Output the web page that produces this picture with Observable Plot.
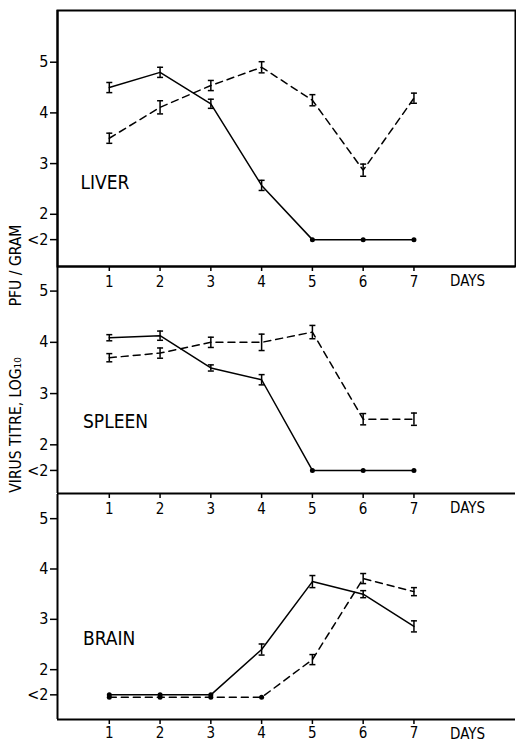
<!DOCTYPE html>
<html>
<head>
<meta charset="utf-8">
<script src="https://cdn.jsdelivr.net/npm/d3@7"></script>
<script src="https://cdn.jsdelivr.net/npm/@observablehq/plot@0.6"></script>
<style>
  body { margin: 0; background: #fff; }
  #chart { position: relative; width: 516px; height: 742px; background: #fff; }
  #chart svg { position: absolute; left: 0; top: 0; overflow: visible; }
</style>
</head>
<body>
<div id="chart"></div>
<script>
// ---- data ----
const days = [1, 2, 3, 4, 5, 6, 7];
const yTicks = [1.5, 2, 3, 4, 5];
const yTickLabels = ["<2", "2", "3", "4", "5"];
const panelNames = ["LIVER", "SPLEEN", "BRAIN"];
const xLabel = "DAYS";
const yTitleParts = ["VIRUS TITRE, LOG\u2081\u2080", "PFU / GRAM"];

const liverSolid      = [4.5, 4.8, 4.18, 2.57, 1.5, 1.5, 1.5];
const liverSolidErr   = [0.1, 0.1, 0.09, 0.1, 0, 0, 0];
const liverDashed     = [3.5, 4.11, 4.54, 4.9, 4.25, 2.87, 4.29];
const liverDashedErr  = [0.1, 0.13, 0.1, 0.11, 0.11, 0.12, 0.1];

const spleenSolid     = [4.09, 4.13, 3.5, 3.27, 1.5, 1.5, 1.5];
const spleenSolidErr  = [0.06, 0.09, 0.06, 0.1, 0, 0, 0];
const spleenDashed    = [3.7, 3.79, 4.0, 4.0, 4.2, 2.5, 2.5];
const spleenDashedErr = [0.08, 0.1, 0.1, 0.16, 0.13, 0.11, 0.12];

const brainSolid      = [1.5, 1.5, 1.5, 2.4, 3.75, 3.5, 2.86];
const brainSolidErr   = [0, 0, 0, 0.11, 0.12, 0.07, 0.11];
const brainDashed     = [1.45, 1.45, 1.45, 1.45, 2.2, 3.81, 3.55];
const brainDashedErr  = [0, 0, 0, 0, 0.1, 0.1, 0.08];

// ---- helpers ----
const FONT = "'Liberation Sans Narrow','DejaVu Sans Condensed','Liberation Sans',Arial,sans-serif";
const W = 516, H = 742;
const xDomain = [-0.02, 9.0];
const rows = (vals, errs) => days.map((d, i) => ({day: d, v: vals[i], e: errs[i]}));
const capSymbol = {
  draw(ctx, size) {
    const w = Math.sqrt(size / Math.PI);
    ctx.moveTo(-w, 0);
    ctx.lineTo(w, 0);
  }
};

function panel({name, solid, dashed, top, bottom, yDomain, boxed, labelDx, labelDy, xPad, extra = []}) {
  const all = [...solid, ...dashed];
  const withErr = all.filter(d => d.e > 0);
  const nd = all.filter(d => d.e === 0);
  return Plot.plot({
    width: W, height: H,
    marginLeft: 57, marginRight: 1,
    marginTop: top, marginBottom: H - bottom,
    style: {fontFamily: FONT, background: "transparent", overflow: "visible", color: "black"},
    x: {domain: xDomain},
    y: {domain: yDomain},
    marks: [
      boxed ? Plot.frame({stroke: "black", strokeWidth: 2}) : null,
      Plot.ruleX([xDomain[0]], {stroke: "black", strokeWidth: 2}),
      Plot.ruleY([yDomain[0]], {stroke: "black", strokeWidth: 2}),
      Plot.axisY({ticks: yTicks, tickFormat: d => yTickLabels[yTicks.indexOf(d)], tickSize: 7, tickPadding: 2, label: null, fontSize: 16, strokeWidth: 1.5}),
      Plot.axisX({ticks: days, tickSize: 5, tickPadding: xPad, label: null, fontSize: 15, strokeWidth: 1.5}),
      Plot.line(solid, {x: "day", y: "v", stroke: "black", strokeWidth: 1.5}),
      Plot.line(dashed, {x: "day", y: "v", stroke: "black", strokeWidth: 1.5, strokeDasharray: "7,5"}),
      Plot.ruleX(withErr, {x: "day", y1: d => d.v - d.e, y2: d => d.v + d.e, stroke: "black", strokeWidth: 1.5}),
      Plot.dot(withErr, {x: "day", y: d => d.v - d.e, symbol: capSymbol, r: 3, stroke: "black", strokeWidth: 1.5}),
      Plot.dot(withErr, {x: "day", y: d => d.v + d.e, symbol: capSymbol, r: 3, stroke: "black", strokeWidth: 1.5}),
      Plot.dot(nd, {x: "day", y: "v", r: 2.5, fill: "black", stroke: null}),
      Plot.text([name], {frameAnchor: "top-left", dx: labelDx, dy: labelDy, textAnchor: "start", lineAnchor: "top", fontSize: 19, fill: "black"}),
      Plot.text([xLabel], {frameAnchor: "bottom", dx: 181, dy: 15, textAnchor: "middle", lineAnchor: "middle", fontSize: 15, fill: "black"}),
      ...extra
    ]
  });
}

const chart = document.getElementById("chart");

chart.append(panel({
  name: panelNames[0],
  solid: rows(liverSolid, liverSolidErr),
  dashed: rows(liverDashed, liverDashedErr),
  top: 10, bottom: 266, yDomain: [0.97, 6.02], boxed: true,
  labelDx: 23, labelDy: 165, xPad: 5
}));

chart.append(panel({
  name: panelNames[1],
  solid: rows(spleenSolid, spleenSolidErr),
  dashed: rows(spleenDashed, spleenDashedErr),
  top: 266, bottom: 493, yDomain: [1.05, 5.48], boxed: false,
  labelDx: 25.5, labelDy: 148, xPad: 5,
  extra: [
    Plot.text([yTitleParts[0]], {frameAnchor: "left", textAnchor: "middle", lineAnchor: "middle", rotate: -90, dx: -41.5, dy: 45, fontSize: 15.5, fill: "black"}),
    Plot.text([yTitleParts[1]], {frameAnchor: "left", textAnchor: "middle", lineAnchor: "middle", rotate: -90, dx: -41.5, dy: -114.5, fontSize: 15.5, fill: "black"})
  ]
}));

chart.append(panel({
  name: panelNames[2],
  solid: rows(brainSolid, brainSolidErr),
  dashed: rows(brainDashed, brainDashedErr),
  top: 494, bottom: 719, yDomain: [1.01, 5.48], boxed: false,
  labelDx: 25.5, labelDy: 137, xPad: 3
}));
</script>
</body>
</html>
